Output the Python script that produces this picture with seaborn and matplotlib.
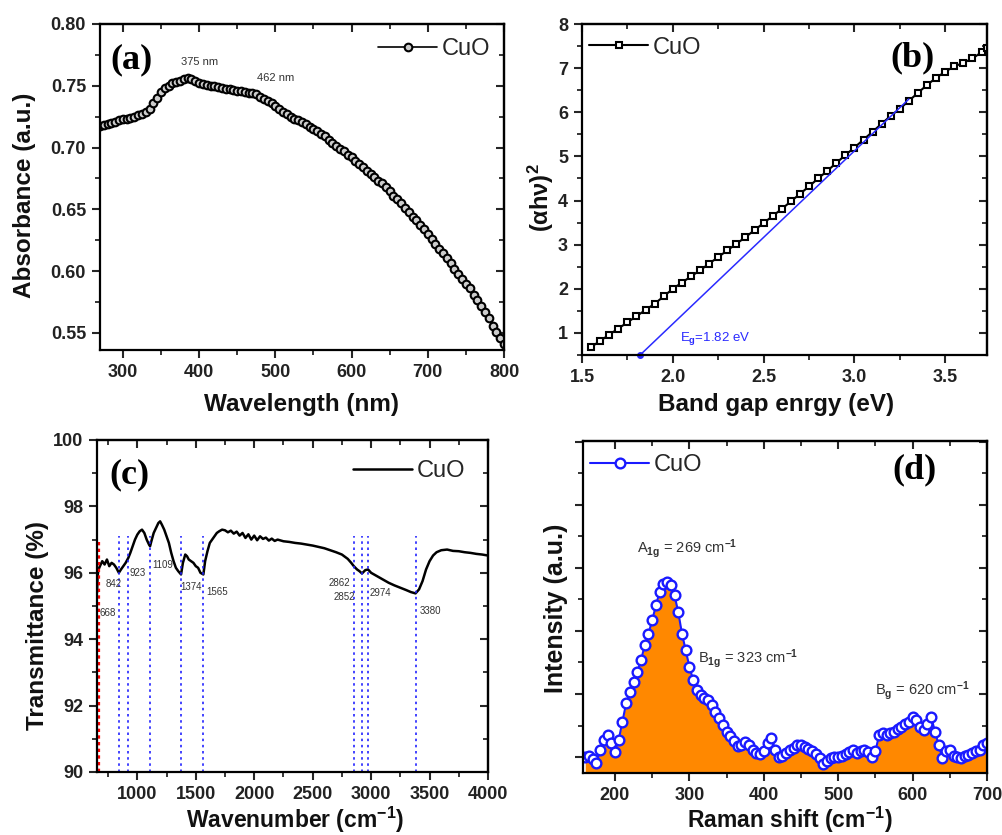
import numpy as np
import pandas as pd
import matplotlib
matplotlib.use("Agg")
import matplotlib.pyplot as plt
import seaborn as sns
from matplotlib.ticker import MultipleLocator, FormatStrFormatter, NullFormatter

# ---------------- data ----------------
# (a) UV-vis absorbance
uv_wavelength = [270, 275, 280, 285, 290, 295, 300, 305, 310, 315, 320, 325, 330, 335, 340, 345, 350,
                 355, 360, 365, 370, 375, 380, 385, 390, 395, 400, 405, 410, 415, 420, 425, 430, 435,
                 440, 445, 450, 455, 460, 465, 470, 475, 480, 485, 490, 495, 500, 505, 510, 515, 520,
                 525, 530, 535, 540, 545, 550, 555, 560, 565, 570, 575, 580, 585, 590, 595, 600, 605,
                 610, 615, 620, 625, 630, 635, 640, 645, 650, 655, 660, 665, 670, 675, 680, 685, 690,
                 695, 700, 705, 710, 715, 720, 725, 730, 735, 740, 745, 750, 755, 760, 765, 770, 775,
                 780, 785, 790, 795, 800]
uv_absorbance = [0.7175, 0.718, 0.719, 0.720, 0.721, 0.722, 0.723, 0.7235, 0.724, 0.725, 0.726, 0.727,
                 0.729, 0.731, 0.736, 0.740, 0.745, 0.748, 0.750, 0.752, 0.753, 0.754, 0.7555, 0.756,
                 0.7555, 0.754, 0.7525, 0.7515, 0.7505, 0.750, 0.7495, 0.749, 0.748, 0.7475, 0.747,
                 0.7465, 0.746, 0.7455, 0.745, 0.7445, 0.744, 0.743, 0.741, 0.7395, 0.738, 0.736,
                 0.734, 0.731, 0.729, 0.727, 0.725, 0.7235, 0.7225, 0.721, 0.719, 0.717, 0.715,
                 0.7135, 0.711, 0.709, 0.706, 0.704, 0.701, 0.699, 0.697, 0.694, 0.692, 0.689, 0.687,
                 0.684, 0.681, 0.679, 0.676, 0.673, 0.671, 0.668, 0.665, 0.661, 0.658, 0.655, 0.651,
                 0.648, 0.644, 0.641, 0.637, 0.634, 0.630, 0.626, 0.622, 0.618, 0.615, 0.611, 0.607,
                 0.602, 0.598, 0.594, 0.590, 0.586, 0.581, 0.577, 0.572, 0.567, 0.562, 0.556, 0.551,
                 0.546, 0.541]
uv_peak_labels = ["375 nm", "462 nm"]
uv_peak_label_x = [400, 500]
uv_peak_label_y = [0.769, 0.756]

# (b) Tauc plot
tauc_energy = [1.55, 1.60, 1.65, 1.70, 1.75, 1.80, 1.85, 1.90, 1.95, 2.00, 2.05, 2.10, 2.15, 2.20,
               2.25, 2.30, 2.35, 2.40, 2.45, 2.50, 2.55, 2.60, 2.65, 2.70, 2.75, 2.80, 2.85, 2.90,
               2.95, 3.00, 3.05, 3.10, 3.15, 3.20, 3.25, 3.30, 3.35, 3.40, 3.45, 3.50, 3.55, 3.60,
               3.65, 3.70, 3.73]
tauc_value = [0.68, 0.82, 0.96, 1.10, 1.24, 1.38, 1.52, 1.66, 1.83, 2.00, 2.14, 2.28, 2.42, 2.57,
              2.72, 2.87, 3.02, 3.17, 3.33, 3.49, 3.65, 3.81, 3.98, 4.15, 4.32, 4.50, 4.67, 4.85,
              5.03, 5.20, 5.38, 5.56, 5.74, 5.92, 6.08, 6.26, 6.44, 6.62, 6.78, 6.92, 7.04, 7.12,
              7.22, 7.36, 7.45]
fit_energy = [1.82, 3.30]
fit_value = [0.5, 6.3]
band_gap_label = "E$_g$=1.82 eV"

# (c) FTIR
ftir_wavenumber = [655, 660, 668, 680, 700, 720, 740, 760, 780, 800, 820, 842, 860, 880, 900, 923,
                   940, 960, 980, 1000, 1020, 1040, 1060, 1080, 1100, 1109, 1120, 1140, 1160, 1180,
                   1195, 1210, 1230, 1250, 1270, 1290, 1310, 1330, 1350, 1374, 1390, 1410, 1425,
                   1440, 1460, 1480, 1500, 1520, 1540, 1565, 1580, 1600, 1620, 1640, 1660, 1680,
                   1700, 1725, 1750, 1775, 1800, 1825, 1850, 1875, 1900, 1925, 1950, 1975, 2000,
                   2025, 2050, 2075, 2100, 2125, 2150, 2175, 2200, 2250, 2300, 2350, 2400, 2450,
                   2500, 2550, 2600, 2650, 2700, 2750, 2800, 2830, 2852, 2880, 2900, 2922, 2950,
                   2974, 3000, 3050, 3100, 3150, 3200, 3250, 3300, 3340, 3380, 3410, 3440, 3470,
                   3500, 3530, 3560, 3600, 3650, 3700, 3750, 3800, 3850, 3900, 3950, 4000]
ftir_transmittance = [95.4, 95.9, 96.1, 96.2, 96.35, 96.25, 96.4, 96.2, 96.3, 96.25, 96.15, 96.0,
                      96.1, 96.2, 96.3, 96.45, 96.6, 96.8, 97.0, 97.15, 97.25, 97.3, 97.2, 97.0,
                      96.85, 96.8, 96.95, 97.2, 97.35, 97.5, 97.55, 97.45, 97.3, 97.1, 96.9, 96.6,
                      96.35, 96.15, 96.05, 95.95, 96.3, 96.55, 96.5, 96.4, 96.35, 96.3, 96.2, 96.15,
                      96.0, 95.95, 96.35, 96.65, 96.9, 97.0, 97.1, 97.2, 97.25, 97.3, 97.28, 97.22,
                      97.27, 97.18, 97.24, 97.12, 97.2, 97.05, 97.16, 97.0, 97.12, 96.98, 97.1,
                      97.02, 97.06, 96.97, 97.03, 96.96, 97.0, 96.95, 96.93, 96.9, 96.88, 96.85,
                      96.82, 96.78, 96.74, 96.68, 96.62, 96.55, 96.42, 96.3, 96.2, 96.1, 96.05, 95.98,
                      96.08, 96.1, 96.0, 95.9, 95.8, 95.7, 95.62, 95.55, 95.48, 95.42, 95.38, 95.5,
                      95.75, 96.1, 96.35, 96.52, 96.62, 96.68, 96.7, 96.66, 96.65, 96.62, 96.6, 96.57,
                      96.55, 96.52]
ftir_red_band = 668
ftir_blue_bands = [842, 923, 1109, 1374, 1565, 2852, 2922, 2974, 3380]
ftir_band_labels = ["668", "842", "923", "1109", "1374", "1565", "2862", "2852", "2974", "3380"]
ftir_label_pos_x = [680, 733, 937, 1126, 1365, 1587, 2640, 2682, 2990, 3418]
ftir_label_pos_y = [94.8, 95.66, 96.0, 96.23, 95.57, 95.42, 95.7, 95.27, 95.39, 94.85]

# (d) Raman
raman_shift = [160, 165, 170, 175, 180, 185, 190, 195, 200, 205, 210, 215, 220, 225, 230, 235, 240,
               245, 250, 255, 260, 265, 270, 275, 280, 285, 290, 295, 300, 305, 310, 315, 320, 325,
               330, 335, 340, 345, 350, 355, 360, 365, 370, 375, 380, 385, 390, 395, 400, 405, 410,
               415, 420, 425, 430, 435, 440, 445, 450, 455, 460, 465, 470, 475, 480, 485, 490, 495,
               500, 505, 510, 515, 520, 525, 530, 535, 540, 545, 550, 555, 560, 565, 570, 575, 580,
               585, 590, 595, 600, 605, 610, 615, 620, 625, 630, 635, 640, 645, 650, 655, 660, 665,
               670, 675, 680, 685, 690, 695, 700]
raman_intensity = [4.8, 5.0, 4.2, 3.0, 7.0, 9.8, 11.4, 9.0, 6.3, 10.0, 15.5, 21.0, 24.5, 27.5, 30.5,
                   34.0, 38.5, 42.0, 46.0, 50.5, 54.5, 57.0, 57.5, 56.5, 53.5, 48.5, 42.0, 37.0, 32.0,
                   28.0, 25.0, 23.5, 22.5, 22.0, 20.5, 18.5, 16.5, 14.5, 12.5, 11.0, 9.5, 8.0, 8.5,
                   9.3, 8.5, 7.0, 6.0, 5.8, 6.5, 9.0, 10.5, 7.0, 4.8, 5.2, 6.0, 7.0, 7.5, 8.4, 8.4,
                   7.8, 7.2, 6.5, 5.8, 4.5, 2.6, 3.5, 4.5, 4.8, 4.8, 5.0, 5.6, 6.4, 6.9, 6.0, 6.5,
                   7.0, 6.2, 4.8, 6.5, 11.5, 12.0, 11.4, 12.0, 12.5, 13.3, 14.0, 14.8, 15.5, 16.9,
                   16.0, 14.0, 13.0, 14.8, 16.9, 12.5, 8.5, 4.5, 6.5, 6.9, 5.0, 4.8, 4.5, 5.0, 5.3,
                   6.0, 6.5, 7.0, 8.4, 9.0]
raman_labels = ["A$_{1g}$ = 269 cm$^{-1}$", "B$_{1g}$ = 323 cm$^{-1}$", "B$_{g}$ = 620 cm$^{-1}$"]
raman_label_x = [229, 311, 549]
raman_label_y = [66.3, 33.4, 23.5]

# ---------------- style ----------------
sns.set_theme(style="ticks")
plt.rcParams["font.family"] = ["Liberation Sans", "DejaVu Sans"]
plt.rcParams["mathtext.fontset"] = "custom"
plt.rcParams["mathtext.rm"] = "Liberation Sans:bold"
plt.rcParams["mathtext.it"] = "Liberation Sans:bold"
plt.rcParams["mathtext.bf"] = "Liberation Sans:bold"
plt.rcParams["axes.linewidth"] = 1.6

W, H = 1002, 835
fig = plt.figure(figsize=(W / 100, H / 100), dpi=100)


def box(l, r, t, b):
    return [l / W, 1 - b / H, (r - l) / W, (b - t) / H]


def fx(px):
    return px / W


def fy(py):
    return 1 - py / H


axA = fig.add_axes(box(100, 504, 24, 350))
axB = fig.add_axes(box(582, 987, 24, 355))
axC = fig.add_axes(box(97, 488, 440, 772))
axD = fig.add_axes(box(583, 987, 441, 773))

TICK_SIZE = 13


def style_axes(ax, xmaj, xmin, ymaj, ymin):
    ax.xaxis.set_major_locator(MultipleLocator(xmaj))
    ax.xaxis.set_minor_locator(MultipleLocator(xmin))
    if ymaj is not None:
        ax.yaxis.set_major_locator(MultipleLocator(ymaj))
        ax.yaxis.set_minor_locator(MultipleLocator(ymin))
    ax.tick_params(which="major", direction="out", length=6, width=1.5, labelsize=TICK_SIZE,
                   labelcolor="#222222", pad=4)
    ax.tick_params(which="minor", direction="out", length=3.5, width=1.3)
    sx = ax.secondary_xaxis("top")
    sx.xaxis.set_major_locator(MultipleLocator(xmaj))
    sx.xaxis.set_minor_locator(MultipleLocator(xmin))
    sx.tick_params(which="major", direction="in", length=6, width=1.5, labeltop=False)
    sx.tick_params(which="minor", direction="in", length=3.5, width=1.3)
    sx.xaxis.set_major_formatter(NullFormatter())
    sy = ax.secondary_yaxis("right")
    if ymaj is not None:
        sy.yaxis.set_major_locator(MultipleLocator(ymaj))
        sy.yaxis.set_minor_locator(MultipleLocator(ymin))
    else:
        sy.set_yticks(ax.get_yticks())
        sy.set_yticks(ax.get_yticks(minor=True), minor=True)
    sy.tick_params(which="major", direction="in", length=6, width=1.5, labelright=False)
    sy.tick_params(which="minor", direction="in", length=3.5, width=1.3)
    sy.yaxis.set_major_formatter(NullFormatter())
    for s in ax.spines.values():
        s.set_visible(True)
        s.set_linewidth(1.6)
        s.set_color("black")


def bold_ticks(ax):
    for lab in ax.get_xticklabels() + ax.get_yticklabels():
        lab.set_fontweight("bold")


def ylab(text, x, y, size):
    fig.text(fx(x), fy(y), text, rotation=90, ha="center", va="center", fontsize=size,
             fontweight="bold", color="#111111")


def xlab(text, x, y, size):
    fig.text(fx(x), fy(y), text, ha="center", va="center", fontsize=size,
             fontweight="bold", color="#111111")


def panel(text, x, y):
    fig.text(fx(x), fy(y), text, ha="center", va="center", fontsize=26, fontweight="bold",
             family="Liberation Serif", color="black")


LEG = dict(frameon=False, fontsize=17, handlelength=2.5, handletextpad=0.2, borderaxespad=0.0)

# ---------------- (a) ----------------
sns.lineplot(x=uv_wavelength, y=uv_absorbance, ax=axA, color="black", lw=1.2, marker="o",
             markersize=5.5, markerfacecolor="#cccccc", markeredgecolor="black",
             markeredgewidth=1.5, label="CuO")
axA.set_xlim(270, 800)
axA.set_ylim(0.5362, 0.80)
style_axes(axA, 100, 50, 0.05, 0.025)
axA.yaxis.set_major_formatter(FormatStrFormatter("%.2f"))
bold_ticks(axA)
axA.set_xlabel("")
axA.set_ylabel("")
for lbl, lx, ly in zip(uv_peak_labels, uv_peak_label_x, uv_peak_label_y):
    axA.text(lx, ly, lbl, fontsize=8, color="#333333", ha="center", va="center")
axA.legend(loc="upper right", bbox_to_anchor=(0.99, 0.985), **LEG)
xlab("Wavelength (nm)", 302, 405, 17.5)
ylab("Absorbance (a.u.)", 25, 195, 17.5)
panel("(a)", 132, 60)

# ---------------- (b) ----------------
sns.lineplot(x=tauc_energy, y=tauc_value, ax=axB, color="black", lw=1.5, marker="s",
             markersize=5, markerfacecolor="white", markeredgecolor="black",
             markeredgewidth=1.5, label="CuO")
axB.plot(fit_energy, fit_value, color="#2a2aff", lw=1.1)
axB.plot([fit_energy[0]], [fit_value[0]], marker="o", color="#2a2aff", markersize=4, clip_on=False)
axB.set_xlim(1.5, 3.73)
axB.set_ylim(0.5, 8)
style_axes(axB, 0.5, 0.25, 1, 0.5)
axB.xaxis.set_major_formatter(FormatStrFormatter("%.1f"))
axB.yaxis.set_major_formatter(FormatStrFormatter("%d"))
bold_ticks(axB)
axB.set_xlabel("")
axB.set_ylabel("")
axB.text(2.04, 0.82, band_gap_label, fontsize=9.5, color="#2a2aff")
axB.legend(loc="upper left", bbox_to_anchor=(-0.005, 0.99), **LEG)
xlab("Band gap enrgy (eV)", 776, 405, 17.5)
ylab("(αhν)$^{2}$", 541, 198, 17)
panel("(b)", 912, 58)

# ---------------- (c) ----------------
sns.lineplot(x=ftir_wavenumber, y=ftir_transmittance, ax=axC, color="black", lw=1.8, label="CuO")
axC.vlines(ftir_red_band, 90, 97.0, colors="red", linestyles=(0, (1.5, 1.5)), lw=1.6)
axC.vlines(ftir_blue_bands, 90, 97.1, colors="#2222ff", linestyles=(0, (1.5, 2.2)), lw=1.2)
for lbl, lx, ly in zip(ftir_band_labels, ftir_label_pos_x, ftir_label_pos_y):
    axC.text(lx, ly, lbl, fontsize=7, color="#333333", ha="left", va="center")
axC.set_xlim(655, 4000)
axC.set_ylim(90, 100)
style_axes(axC, 500, 250, 2, 1)
bold_ticks(axC)
axC.set_xlabel("")
axC.set_ylabel("")
axC.legend(loc="upper right", bbox_to_anchor=(0.965, 0.967), **LEG)
xlab("Wavenumber (cm$^{-1}$)", 295, 820, 16.5)
ylab("Transmittance (%)", 38, 625, 17.5)
panel("(c)", 129, 475)

# ---------------- (d) ----------------
axD.fill_between(raman_shift, 0, raman_intensity, color="#ff8800", lw=0)
sns.lineplot(x=raman_shift, y=raman_intensity, ax=axD, color="#1a1aff", lw=1.5, marker="o",
             markersize=7, markerfacecolor="white", markeredgecolor="#1a1aff",
             markeredgewidth=1.7, label="CuO")
axD.set_xlim(157, 700)
axD.set_ylim(0, 100)
axD.set_yticks([4.8, 23.8, 42.8, 61.8, 80.8, 99.8])
axD.set_yticks([14.3, 33.3, 52.3, 71.3, 90.3], minor=True)
style_axes(axD, 100, 50, None, None)
axD.set_yticklabels([])
bold_ticks(axD)
axD.set_xlabel("")
axD.set_ylabel("")
for lbl, lx, ly in zip(raman_labels, raman_label_x, raman_label_y):
    axD.text(lx, ly, lbl, fontsize=10.5, color="#333333", ha="left")
axD.legend(loc="upper left", bbox_to_anchor=(-0.005, 0.99), **LEG)
xlab("Raman shift (cm$^{-1}$)", 790, 820, 16.5)
ylab("Intensity (a.u.)", 556, 608, 18)
panel("(d)", 914, 470)

fig.savefig("out.png", dpi=100)
